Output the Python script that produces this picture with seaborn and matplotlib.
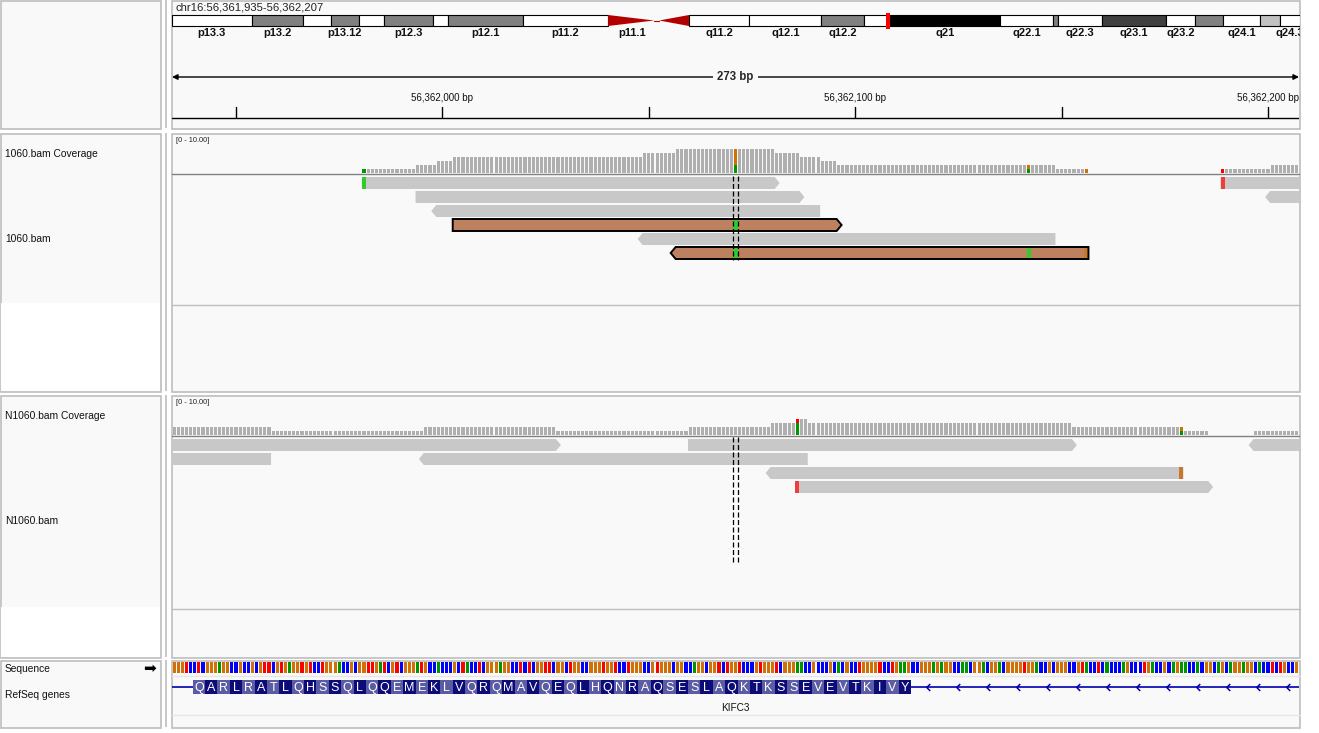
import numpy as np
import pandas as pd
import matplotlib
matplotlib.use("Agg")
import matplotlib.pyplot as plt
from matplotlib.patches import Rectangle, Polygon
from matplotlib.path import Path
import seaborn as sns

sns.set_theme(style="white")
plt.rcParams['font.family'] = ['Liberation Sans', 'DejaVu Sans']

# ====================== DATA ======================
chrom = "chr16"
view_start = 56361935
view_end = 56362207
locus_text = "chr16:56,361,935-56,362,207"

# chromosome ideogram (Mb)
chrom_len_mb = 90.35
band_start = [0.0, 6.37, 10.46, 12.71, 14.97, 16.96, 20.91, 22.09, 28.11, 34.92,
              38.77, 41.41, 46.22, 52.02, 55.43, 57.51, 66.32, 70.56, 71.0, 74.49,
              79.61, 81.93, 84.17, 87.13, 88.73]
band_end = [6.37, 10.46, 12.71, 14.97, 16.96, 20.91, 22.09, 28.11, 34.92, 38.77,
            41.41, 46.22, 52.02, 55.43, 57.51, 66.32, 70.56, 71.0, 74.49, 79.61,
            81.93, 84.17, 87.13, 88.73, 90.35]
band_stain = ["gneg", "gpos50", "gneg", "gpos50", "gneg", "gpos50", "gneg", "gpos50", "gneg", "acen",
              "acen", "gneg", "gneg", "gpos50", "gneg", "gpos100", "gneg", "gpos50", "gneg", "gpos75",
              "gneg", "gpos50", "gneg", "gpos25", "gneg"]
band_label = ["p13.3", "p13.2", "", "p13.12", "", "p12.3", "", "p12.1", "p11.2", "p11.1",
              "", "q11.2", "q12.1", "q12.2", "", "q21", "q22.1", "", "q22.3", "q23.1",
              "q23.2", "", "q24.1", "", "q24.3"]
locus_marker_mb = 57.33

# ruler
ruler_ticks = [56361950, 56362000, 56362050, 56362100, 56362150, 56362200]
ruler_tick_labels = ["", "56,362,000 bp", "", "56,362,100 bp", "", "56,362,200 bp"]
span_label = "273 bp"

# track names
track_names = ["1060.bam Coverage", "1060.bam", "N1060.bam Coverage", "N1060.bam",
               "Sequence", "RefSeq genes"]
data_range_label = "[0 - 10.00]"

# coverage, sample 1060 (runs of depth; offsets from view_start, end exclusive)
cov1_run_start = [46, 59, 64, 68, 114, 122, 146, 152, 157, 161, 214, 254, 266]
cov1_run_end = [59, 64, 68, 114, 122, 146, 152, 157, 161, 214, 222, 266, 273]
cov1_run_depth = [1, 2, 3, 4, 5, 6, 5, 4, 3, 2, 1, 1, 2]
cov1_mm_offset = [46, 136, 136, 207, 207, 221, 254]
cov1_mm_base = ["A", "A", "G", "A", "G", "G", "T"]
cov1_mm_count = [1, 2, 4, 1, 1, 1, 1]

# coverage, sample N1060
cov2_run_start = [0, 24, 61, 93, 125, 145, 151, 154, 218, 245, 262]
cov2_run_end = [24, 61, 93, 125, 145, 151, 154, 218, 245, 251, 273]
cov2_run_depth = [2, 1, 2, 1, 2, 3, 4, 3, 2, 1, 1]
cov2_mm_offset = [151, 151, 244, 244]
cov2_mm_base = ["A", "T", "A", "G"]
cov2_mm_count = [3, 1, 1, 1]

# reads, sample 1060 (offsets, end exclusive)
r1_start = [46, 59, 64, 68, 114, 122, 254, 266]
r1_end = [146, 152, 157, 161, 214, 222, 300, 300]
r1_strand = ["+", "+", "-", "+", "-", "-", "+", "-"]
r1_row = [0, 1, 2, 3, 4, 5, 0, 1]
r1_kind = ["plain", "plain", "plain", "flag", "plain", "flag", "plain", "plain"]
r1_mm_read = [0, 3, 5, 5, 5, 6]
r1_mm_offset = [46, 136, 136, 207, 221, 254]
r1_mm_base = ["A", "A", "A", "A", "G", "T"]

# reads, sample N1060
r2_start = [-60, 125, 262, -80, 61, 145, 151]
r2_end = [93, 218, 340, 24, 154, 245, 251]
r2_strand = ["+", "+", "-", "-", "-", "-", "+"]
r2_row = [0, 0, 0, 1, 1, 2, 3]
r2_kind = ["plain"] * 7
r2_mm_read = [5, 6]
r2_mm_offset = [244, 151]
r2_mm_base = ["G", "T"]

center_offset = 136

# reference sequence (273 bases)
ref_seq = ("GGGTCCTCGGGAGGCCGCCGCGTTCGTGAGGTGTCCTGGGACCGCGGTTGATCGTCGGGATGCCACCCG"
           "CTACCTCGGGAGGCCTCTCGGTTCGGCTGGCCGGGTGGTCCTGGGCCGTGGGCGGCCAGGCGGTCTG"
           "GTCCCGTGGGTCGGGAACCGCCCGCACGCCTGGGGTCCTGAAGCCGGGAGAGGCCAACGGACGGACGGG"
           "GTGGACCGCGGGCCGTACCTCACCCAGCCCTGACCGCAGAACCACGGCAGCAGGAGGCACCTCTGCCG")

# gene KIFC3 (minus strand), coding exon in view
gene_name = "KIFC3"
exon_start_offset = 5
aa_seq = "QARLRATLQHSSQLQQEMEKLVQRQMAVQEQLHQNRAQSESLAQKTKSSEVEVTKIVY"

# ====================== STYLE ======================
W, H = 1319, 733
PANEL_BG = "#F9F9F9"
BORDER = "#BEBEBE"
COV_GRAY = "#AFAFAF"
READ_GRAY = "#C8C8C8"
READ_FLAG = "#BD8160"
BASE_COL = {"A": "#009600", "C": "#0000FF", "G": "#D17105", "T": "#FF0000"}
READ_MM_COL = {"A": "#2ECC2E", "C": "#3030FF", "G": "#C8782E", "T": "#F03C3C"}
STAIN_COL = {"gneg": "#FFFFFF", "gpos25": "#C0C0C0", "gpos50": "#808080",
             "gpos75": "#404040", "gpos100": "#000000", "acen": "#B00000"}
AA_COL = ["#5C5CA4", "#0C0C78"]
GENE_COL = "#0000B0"
PX_PER_BP = 1127.0 / 273

fig = plt.figure(figsize=(W / 100, H / 100), dpi=100)
fig.patch.set_facecolor("white")


def px_ax(x0, y0, x1, y1, z=1):
    ax = fig.add_axes([x0 / W, 1 - y1 / H, (x1 - x0) / W, (y1 - y0) / H])
    ax.set_axis_off()
    ax.set_zorder(z)
    return ax


bg = px_ax(0, 0, W, H, z=0)
bg.set_xlim(0, W)
bg.set_ylim(H, 0)

gx0, gx1 = view_start - 0.5, view_end + 0.5

# ---------- panels ----------
panels = [(0, 128), (133, 391), (395, 657), (660, 727)]
for (y0, y1) in panels:
    bg.add_patch(Rectangle((0.5, y0 + 0.5), 160, y1 - y0, facecolor=PANEL_BG, edgecolor=BORDER, lw=1.2))
    bg.add_patch(Rectangle((171.5, y0 + 0.5), 1128.5, y1 - y0, facecolor=PANEL_BG, edgecolor=BORDER, lw=1.2))
    bg.add_patch(Rectangle((165, y0), 2, y1 - y0, facecolor="#C8C8C8", edgecolor="none"))
# white lower parts of the name panel
for (y0, y1) in [(303, 390.5), (607, 656.5)]:
    bg.add_patch(Rectangle((1.2, y0), 158.6, y1 - y0, facecolor="white", edgecolor="none"))
# track bottom separators
for y in [305, 609]:
    bg.plot([172, 1300], [y, y], color=BORDER, lw=1)
for y in [676, 715]:
    bg.plot([172, 1300], [y, y], color="#E6E6E6", lw=1)

# ---------- left names ----------
name_y = [154, 239, 416, 521, 669, 695]
for nm, y in zip(track_names, name_y):
    bg.text(5, y, nm, fontsize=7.4, va="center", ha="left", color="#111111")
bg.text(156, 668, "\u27A1", fontsize=11, va="center", ha="right", family=["DejaVu Sans"], color="black")

# ---------- locus + ideogram ----------
bg.text(175, 8, locus_text, fontsize=8.1, va="center", ha="left", color="#222222")

ideo = px_ax(172, 8, 1300, 40)
ideo.set_xlim(0, chrom_len_mb)
ideo.set_ylim(40, 8)
yt, yb = 15, 26
for s, e, st, lb in zip(band_start, band_end, band_stain, band_label):
    if st == "acen":
        continue
    ideo.add_patch(Rectangle((s, yt), e - s, yb - yt, facecolor=STAIN_COL[st], edgecolor="black", lw=0.8))
# centromere triangles
acen_idx = [i for i, st in enumerate(band_stain) if st == "acen"]
p_i, q_i = acen_idx
ideo.add_patch(Polygon([(band_start[p_i], yt), (band_end[p_i] - 0.15, (yt + yb) / 2), (band_start[p_i], yb)],
                       closed=True, facecolor=STAIN_COL["acen"], edgecolor="none"))
ideo.add_patch(Polygon([(band_end[q_i], yt), (band_start[q_i] + 0.25, (yt + yb) / 2), (band_end[q_i], yb)],
                       closed=True, facecolor=STAIN_COL["acen"], edgecolor="none"))
ideo.plot([band_end[p_i] - 0.15, band_start[q_i] + 0.25], [(yt + yb) / 2] * 2, color=STAIN_COL["acen"], lw=0.8)
for s, e, lb in zip(band_start, band_end, band_label):
    if lb:
        ideo.text((s + e) / 2, 33.5, lb, fontsize=8, fontweight="bold", ha="center", va="center",
                  color="#111111", clip_on=True)
ideo.add_patch(Rectangle((locus_marker_mb - 0.18, 13), 0.36, 16, facecolor="#FF0000", edgecolor="none", zorder=5))

# ---------- ruler ----------
rul = px_ax(172, 60, 1299, 122)
rul.set_xlim(gx0, gx1)
rul.set_ylim(122, 60)
rul.annotate("", xy=(gx1, 77), xytext=(gx0, 77),
             arrowprops=dict(arrowstyle="<|-|>", color="black", lw=1, mutation_scale=8, shrinkA=0, shrinkB=0))
rul.text((view_start + view_end) / 2, 77, span_label, fontsize=8.3, fontweight="bold", ha="center", va="center",
         bbox=dict(facecolor=PANEL_BG, edgecolor="none", pad=3))
for p, lb in zip(ruler_ticks, ruler_tick_labels):
    rul.plot([p, p], [107, 117], color="black", lw=1)
    if lb:
        rul.text(p, 98, lb, fontsize=7, ha="center", va="center", color="#111111", clip_on=False)
rul.plot([gx0, gx1], [117.5, 117.5], color="black", lw=1)


# ---------- coverage ----------
def coverage_frame(rs, re_, rd, mo, mb, mc):
    depth = np.zeros(view_end - view_start + 1, dtype=int)
    for s, e, d in zip(rs, re_, rd):
        depth[s:e] = d
    rows = []
    mm_set = set(mo)
    for off, d in enumerate(depth):
        if d > 0 and off not in mm_set:
            rows.append((view_start + off, "ref", d))
    for off, b, c in zip(mo, mb, mc):
        rows.append((view_start + off, b, c))
    return pd.DataFrame(rows, columns=["pos", "allele", "count"])


pal = {"ref": COV_GRAY, **BASE_COL}
for (y0, y1), args in [((133, 173), (cov1_run_start, cov1_run_end, cov1_run_depth, cov1_mm_offset, cov1_mm_base, cov1_mm_count)),
                       ((395, 435), (cov2_run_start, cov2_run_end, cov2_run_depth, cov2_mm_offset, cov2_mm_base, cov2_mm_count))]:
    ax = px_ax(172, y0, 1299, y1)
    df = coverage_frame(*args)
    sns.histplot(data=df, x="pos", weights="count", hue="allele", hue_order=["ref", "T", "G", "C", "A"],
                 palette=pal, multiple="stack", binwidth=1, binrange=(gx0, gx1), shrink=0.75, alpha=1,
                 linewidth=0, legend=False, ax=ax)
    ax.set_xlim(gx0, gx1)
    ax.set_ylim(0, 10)
    ax.set_axis_off()
    ax.axhline(-0.2, color="#808080", lw=1, clip_on=False)
    bg.text(176, y0 + 7, data_range_label, fontsize=5.3, va="center", ha="left", color="#222222")


# ---------- reads ----------
def draw_reads(ax, top, starts, ends, strands, rows, kinds, mm_read, mm_off, mm_base):
    pitch, hgt, tip = 14, 12, 1.2
    for k, (s, e, sd, r, kd) in enumerate(zip(starts, ends, strands, rows, kinds)):
        x0, x1 = view_start + s - 0.5, view_start + e - 0.5
        y0 = top + pitch * r
        y1 = y0 + hgt
        ym = (y0 + y1) / 2
        if sd == "+":
            pts = [(x0, y0), (x1, y0), (x1 + tip, ym), (x1, y1), (x0, y1)]
        else:
            pts = [(x0, y0), (x1, y0), (x1, y1), (x0, y1), (x0 - tip, ym)]
        fc = READ_FLAG if kd == "flag" else READ_GRAY
        ax.add_patch(Polygon(pts, closed=True, facecolor=fc, edgecolor="none", zorder=2))
        for ri, mo, mb in zip(mm_read, mm_off, mm_base):
            if ri == k:
                ax.add_patch(Rectangle((view_start + mo - 0.5, y0), 1, hgt, facecolor=READ_MM_COL[mb],
                                       edgecolor="none", zorder=3))
        if kd == "flag":
            ax.add_patch(Polygon(pts, closed=True, facecolor="none", edgecolor="black", lw=1.4,
                                 joinstyle="miter", zorder=4))


ra = px_ax(172, 175, 1299, 305)
ra.set_xlim(gx0, gx1)
ra.set_ylim(305, 175)
draw_reads(ra, 177, r1_start, r1_end, r1_strand, r1_row, r1_kind, r1_mm_read, r1_mm_offset, r1_mm_base)

rb = px_ax(172, 437, 1299, 609)
rb.set_xlim(gx0, gx1)
rb.set_ylim(609, 437)
draw_reads(rb, 439, r2_start, r2_end, r2_strand, r2_row, r2_kind, r2_mm_read, r2_mm_offset, r2_mm_base)

cpos = view_start + center_offset
for ax, (ya, yb2) in [(ra, (176, 260)), (rb, (437, 563))]:
    for xx in (cpos - 0.5, cpos + 0.5):
        ax.plot([xx, xx], [ya, yb2], color="black", lw=0.9, linestyle=(0, (4, 2)), zorder=6)

# ---------- sequence + gene ----------
fa = px_ax(172, 660, 1299, 727)
fa.set_xlim(gx0, gx1)
fa.set_ylim(727, 660)
seq_pos = view_start + np.arange(len(ref_seq))
fa.bar(seq_pos, 11, bottom=662, width=0.75, color=[BASE_COL[b] for b in ref_seq], linewidth=0)

ex0 = view_start + exon_start_offset - 0.5
ex1 = ex0 + 3 * len(aa_seq)
fa.plot([gx0, ex0], [687, 687], color=GENE_COL, lw=1.2, solid_capstyle="butt")
fa.plot([ex1, gx1], [687, 687], color=GENE_COL, lw=1.2, solid_capstyle="butt")
for k, aa in enumerate(aa_seq):
    xa = ex0 + 3 * k
    fa.add_patch(Rectangle((xa, 680), 3, 14, facecolor=AA_COL[k % 2], edgecolor="none"))
    fa.text(xa + 1.5, 687.5, aa, color="white", fontsize=9, ha="center", va="center")
chev = Path([(0.5, 1.0), (-0.5, 0.0), (0.5, -1.0)], [Path.MOVETO, Path.LINETO, Path.LINETO])
chev_x = np.arange(ex1 + 4.1, gx1, 30 / PX_PER_BP)
fa.plot(chev_x, np.full(len(chev_x), 687), linestyle="none", marker=chev, markersize=5,
        markerfacecolor="none", markeredgecolor=GENE_COL, markeredgewidth=1.1)
fa.text((view_start + view_end) / 2, 708, gene_name, fontsize=7.2, ha="center", va="center", color="#111111")

fig.savefig("out.png", dpi=100, facecolor="white")
